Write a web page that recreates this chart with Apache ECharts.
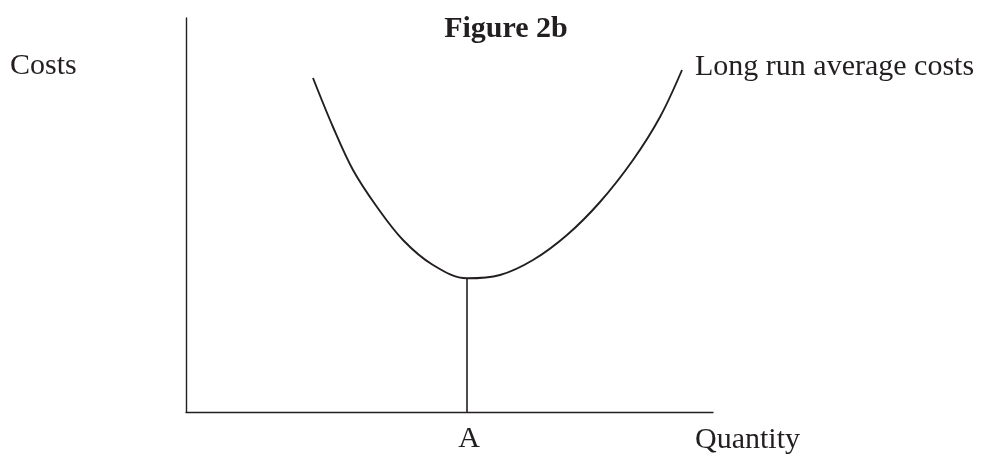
<!DOCTYPE html>
<html>
<head>
<meta charset="utf-8">
<script src="https://cdn.jsdelivr.net/npm/echarts@6/dist/echarts.min.js"></script>
<style>
html,body{margin:0;padding:0;background:#fff;}
#chart{width:995px;height:455px;}
</style>
</head>
<body>
<div id="chart"></div>
<script>
// Long run average cost curve (quantity, cost) in arbitrary units
const lracQuantity = [127, 147, 167, 191, 217, 247, 281, 314, 347, 381, 414, 447, 474, 496];
const lracCost     = [334, 285, 242, 205, 172, 147, 133.7, 137, 152, 177, 210, 252, 295, 342];
// Quantity A at the minimum of the curve
const quantityA = 281;
const minCost = 133.7;
const axisMaxX = 527;
const axisMaxY = 394;
// Labels
const titleText = 'Figure 2b';
const yAxisLabel = 'Costs';
const xAxisLabel = 'Quantity';
const curveLabel = 'Long run average costs';
const pointLabel = 'A';

const ink = '#231f20';
const font = '"Liberation Serif", "Times New Roman", serif';

const chart = echarts.init(document.getElementById('chart'), null, {renderer: 'canvas'});
const curveData = lracQuantity.map((q, i) => [q, lracCost[i]]);

chart.setOption({
  animation: false,
  backgroundColor: '#ffffff',
  grid: {left: 186, top: 18, width: 527, height: 394, containLabel: false},
  xAxis: {
    type: 'value', min: 0, max: axisMaxX,
    axisLine: {show: true, onZero: false, lineStyle: {color: ink, width: 1.4}},
    axisTick: {show: false}, axisLabel: {show: false}, splitLine: {show: false}
  },
  yAxis: {
    type: 'value', min: 0, max: axisMaxY,
    axisLine: {show: true, onZero: false, lineStyle: {color: ink, width: 1.4}},
    axisTick: {show: false}, axisLabel: {show: false}, splitLine: {show: false}
  },
  series: [
    {
      type: 'line', data: curveData, smooth: 0.35, symbol: 'none',
      lineStyle: {color: ink, width: 1.9}
    },
    {
      type: 'line', data: [[quantityA, 0], [quantityA, minCost]], symbol: 'none',
      lineStyle: {color: ink, width: 1.6}
    }
  ],
  graphic: [
    {type: 'text', left: 10, top: 51, style: {text: yAxisLabel, font: '30px ' + font, fill: ink}},
    {type: 'text', x: 506, y: 29, style: {text: titleText, font: 'bold 30px ' + font, fill: ink, align: 'center', verticalAlign: 'middle'}},
    {type: 'text', x: 695, y: 67, style: {text: curveLabel, font: '30px ' + font, fill: ink, align: 'left', verticalAlign: 'middle'}},
    {type: 'text', x: 469, y: 439, style: {text: pointLabel, font: '30px ' + font, fill: ink, align: 'center', verticalAlign: 'middle'}},
    {type: 'text', x: 695, y: 440, style: {text: xAxisLabel, font: '30px ' + font, fill: ink, align: 'left', verticalAlign: 'middle'}}
  ]
});
</script>
</body>
</html>
